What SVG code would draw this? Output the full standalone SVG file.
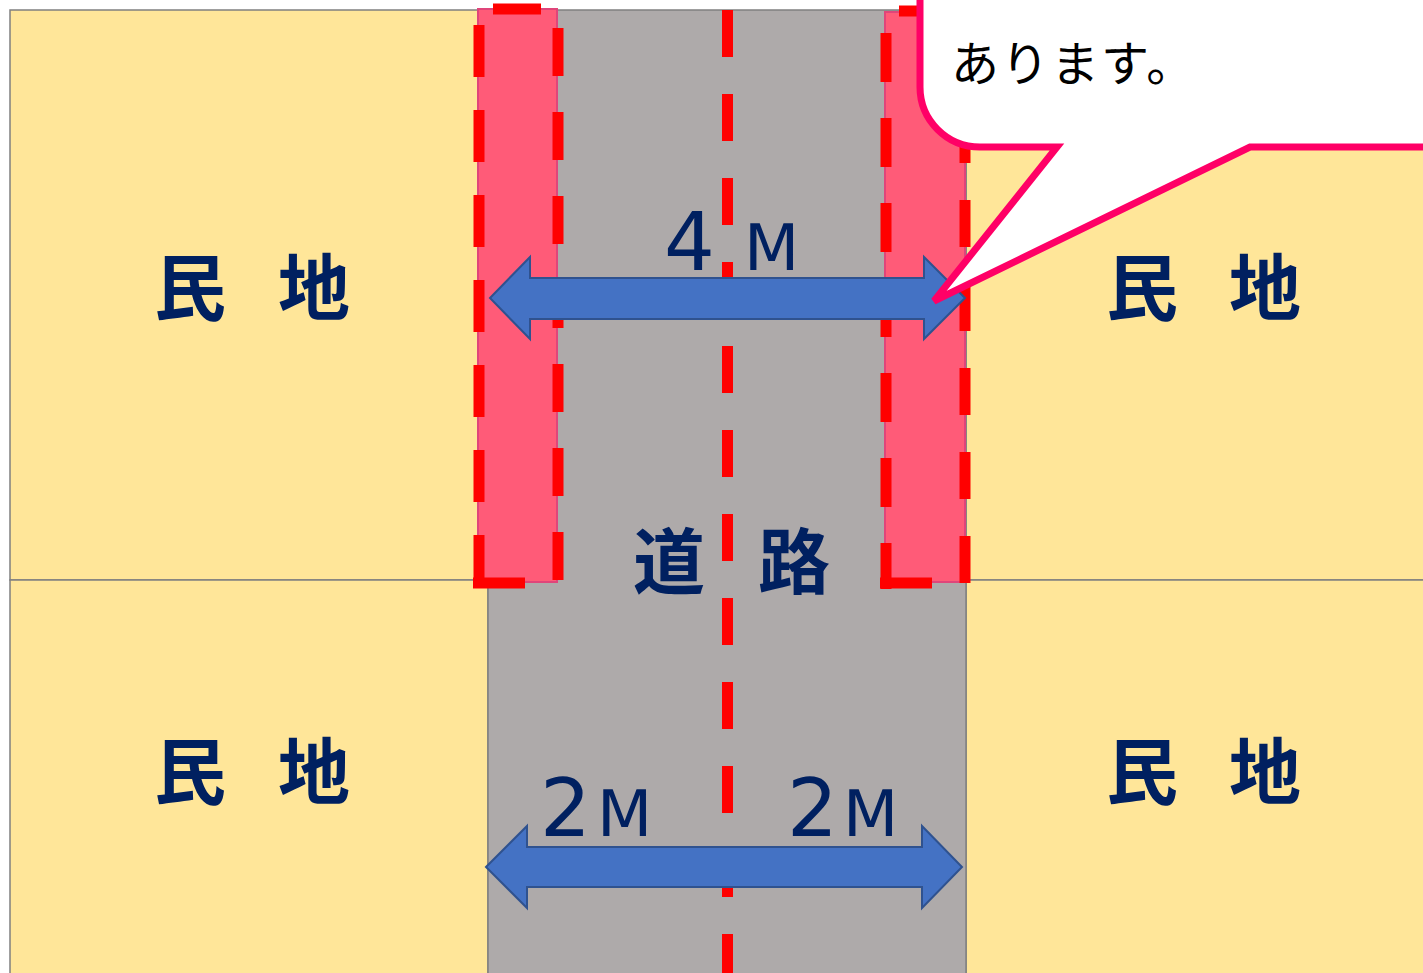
<svg xmlns="http://www.w3.org/2000/svg" width="1423" height="973" viewBox="0 0 1423 973">
<style>
.parcel{fill:#ffe699;stroke:#808080;stroke-width:1.5}
.road{fill:#aeaaaa;stroke:#808080;stroke-width:1.5}
.strip{fill:#ff5b78;stroke:#e0457a;stroke-width:2}
.dash{fill:none;stroke:#ff0000;stroke-width:11}
.arrow{fill:#4472c4;stroke:#2f528f;stroke-width:2}
.kanji{font-family:"Noto Sans CJK JP",sans-serif;font-weight:700;font-size:72px;fill:#002060;text-anchor:middle}
.dim{font-family:"DejaVu Sans","Noto Sans",sans-serif;fill:#002060}
.bubble{fill:#ffffff;stroke:#ff0066;stroke-width:7;stroke-linejoin:miter}
.btext{font-family:"Noto Sans CJK JP",sans-serif;font-size:48px;fill:#000000;letter-spacing:2px}
</style>
<rect width="1423" height="973" fill="#ffffff"/>
<g id="parcel-top-left"><rect class="parcel" x="10" y="10" width="478" height="570"/><text class="kanji" x="190" y="314">民</text><text class="kanji" x="314" y="314">地</text></g>
<g id="parcel-bottom-left"><rect class="parcel" x="10" y="580" width="478" height="400"/><text class="kanji" x="190" y="798">民</text><text class="kanji" x="314" y="798">地</text></g>
<g id="parcel-top-right"><rect class="parcel" x="966" y="10" width="470" height="570"/><text class="kanji" x="1142" y="314">民</text><text class="kanji" x="1265" y="314">地</text></g>
<g id="parcel-bottom-right"><rect class="parcel" x="966" y="580" width="470" height="400"/><text class="kanji" x="1142" y="798">民</text><text class="kanji" x="1265" y="798">地</text></g>
<g id="road">
<rect class="road" x="488" y="10" width="478" height="970"/>
<path class="dash" d="M727.5 10 V973" stroke-width="10" stroke-dasharray="47 37"/>
<text class="kanji" x="669" y="588">道</text><text class="kanji" x="794" y="588">路</text>
</g>
<g id="setback-left">
<rect class="strip" x="478" y="9" width="79" height="573"/>
<path class="dash" d="M479 587 V9" stroke-dasharray="52 33"/>
<path class="dash" d="M473 583 H525"/>
<path class="dash" d="M493 9 H541"/>
<path class="dash" d="M558 28 V583" stroke-dasharray="48 36"/>
</g>
<g id="setback-right">
<rect class="strip" x="885" y="12" width="80" height="570"/>
<path class="dash" d="M886 33 V589" stroke-dasharray="49 36"/>
<path class="dash" d="M880 583 H932"/>
<path class="dash" d="M899 11 H947"/>
<path class="dash" d="M965 32 V583" stroke-dasharray="47 37"/>
</g>
<g id="connectors">
<path class="arrow" d="M490 298 L530 257 L530 278 L924 278 L924 257 L965 298 L924 339 L924 319 L530 319 L530 339 Z"/>
<path class="arrow" d="M486 867 L527 826 L527 847 L922 847 L922 826 L962 867 L922 908 L922 887 L527 887 L527 908 Z"/>
</g>
<g id="dim-4m"><text class="dim" y="270"><tspan x="664" font-size="80">4</tspan><tspan x="744" font-size="64">M</tspan></text></g>
<g id="dim-2m-left"><text class="dim" y="836"><tspan x="540" font-size="80">2</tspan><tspan x="597" font-size="64">M</tspan></text></g>
<g id="dim-2m-right"><text class="dim" y="836"><tspan x="787" font-size="80">2</tspan><tspan x="843" font-size="64">M</tspan></text></g>
<g id="callout">
<path class="bubble" d="M920 -10 V87 A60 60 0 0 0 980 147 H1057 L934 301 L1250 147 H1440 V-10 Z"/>
<text class="btext" x="951" y="81">あります。</text>
</g>
</svg>
